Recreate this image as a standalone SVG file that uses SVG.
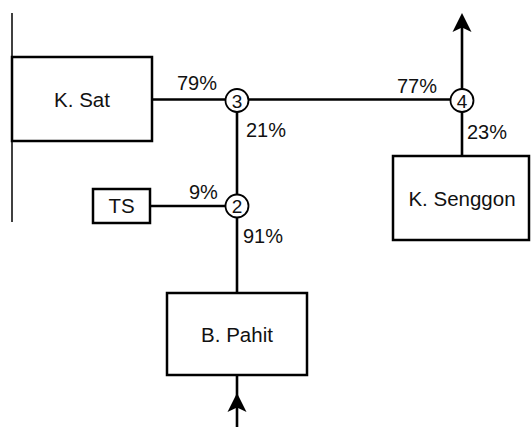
<svg xmlns="http://www.w3.org/2000/svg" width="531" height="427" viewBox="0 0 531 427">
<style>
  .box { fill: #fff; stroke: #000; stroke-width: 2.5; }
  .node { fill: #fff; stroke: #000; stroke-width: 1.8; }
  .conn { stroke: #000; stroke-width: 2.6; fill: none; }
  .lbl { font-family: "Liberation Sans", Arial, sans-serif; font-size: 20.5px; fill: #111; text-anchor: middle; }
  .pct { font-family: "Liberation Sans", Arial, sans-serif; font-size: 20px; fill: #111; }
  .num { font-family: "Liberation Sans", Arial, sans-serif; font-size: 19px; fill: #111; text-anchor: middle; }
</style>
<defs>
  <marker id="arr" viewBox="0 0 20 20" refX="7" refY="10" markerWidth="20" markerHeight="20" markerUnits="userSpaceOnUse" orient="auto">
    <path d="M0,0.5 L19,10 L0,19.5 L4.5,10 Z" fill="#000"/>
  </marker>
</defs>
<rect width="531" height="427" fill="#fff"/>
<line x1="12" y1="13" x2="12" y2="222" stroke="#000" stroke-width="1.5"/>
<g id="connectors">
  <line class="conn" x1="152" y1="99.5" x2="226" y2="99.5"/>
  <line class="conn" x1="249" y1="99.5" x2="451" y2="99.5"/>
  <line class="conn" x1="237" y1="112" x2="237" y2="195"/>
  <line class="conn" x1="150" y1="206" x2="226" y2="206"/>
  <line class="conn" x1="237" y1="217" x2="237" y2="293"/>
  <line class="conn" x1="462" y1="112" x2="462" y2="156"/>
  <path class="conn" d="M462,89 L462,25" marker-end="url(#arr)"/>
  <path class="conn" d="M237,427 L237,405 L237,375" marker-mid="url(#arr)"/>
</g>
<g id="ksat">
  <rect class="box" x="12" y="57" width="140" height="84"/>
  <text class="lbl" x="82" y="106.5">K. Sat</text>
</g>
<g id="ts">
  <rect class="box" x="93" y="189" width="57" height="34"/>
  <text class="lbl" x="121.5" y="213">TS</text>
</g>
<g id="bpahit">
  <rect class="box" x="167" y="293" width="140" height="82"/>
  <text class="lbl" x="237" y="341.5">B. Pahit</text>
</g>
<g id="ksenggon">
  <rect class="box" x="393" y="156" width="136" height="84"/>
  <text class="lbl" x="462" y="206">K. Senggon</text>
</g>
<g id="n3">
  <circle class="node" cx="237" cy="100.5" r="11.5"/>
  <text class="num" x="237" y="107.5">3</text>
</g>
<g id="n4">
  <circle class="node" cx="462" cy="100.5" r="11.5"/>
  <text class="num" x="462" y="107.5">4</text>
</g>
<g id="n2">
  <circle class="node" cx="237" cy="206" r="11.5"/>
  <text class="num" x="237" y="213">2</text>
</g>
<g id="labels">
  <text class="pct" x="177" y="90">79%</text>
  <text class="pct" x="246" y="137">21%</text>
  <text class="pct" x="397" y="93">77%</text>
  <text class="pct" x="467" y="139">23%</text>
  <text class="pct" x="189" y="199">9%</text>
  <text class="pct" x="243" y="243">91%</text>
</g>
</svg>
